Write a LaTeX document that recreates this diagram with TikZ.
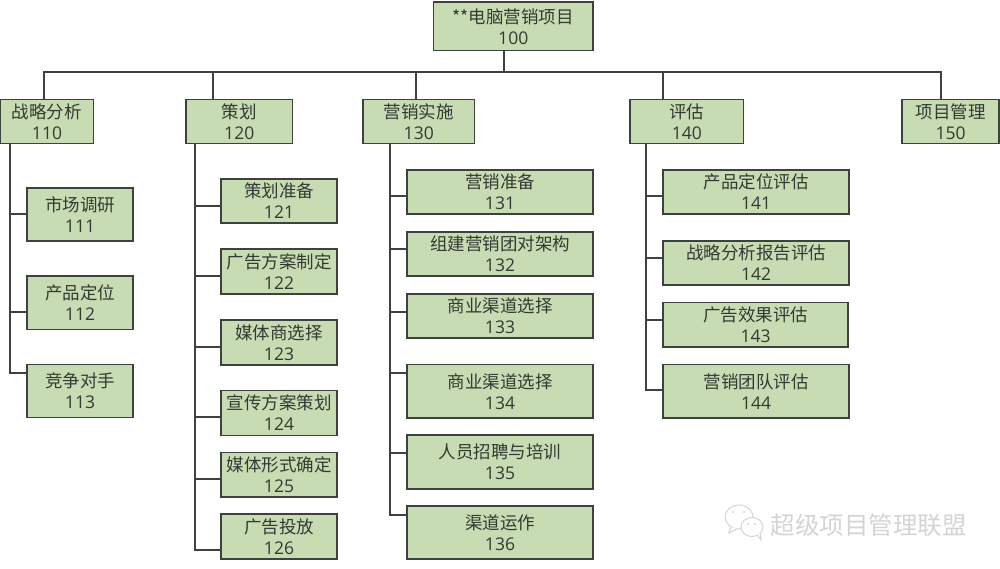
\documentclass[tikz,border=0pt]{standalone}
\usepackage{fontspec}
\setmainfont{Open Sans}
\newfontfamily\cjkfont{Noto Sans CJK SC}
\definecolor{boxfill}{HTML}{C7DCB2}
\definecolor{boxline}{HTML}{3C423C}
\definecolor{inktext}{HTML}{343934}
\definecolor{markgray}{HTML}{D4D4D4}
\tikzset{
  wbs/.style={draw=boxline,fill=boxfill,line width=1.5pt,inner sep=0pt,outer sep=0pt,
    align=center,text=inktext,font=\fontsize{17.5}{21}\selectfont},
  conn/.style={draw=boxline,line width=1.5pt},
  wmark/.style={draw=markgray,line width=1pt,fill=white}
}
\newcommand{\wbsbox}[6]{%
  \pgfmathsetmacro{\cxv}{(#3+#5)/2}\pgfmathsetmacro{\cyv}{(#4+#6)/2}%
  \pgfmathsetmacro{\wv}{#5-#3}\pgfmathsetmacro{\hv}{#6-#4}%
  \node[wbs,minimum width=\wv pt,minimum height=\hv pt] (n#1) at (\cxv,\cyv)
    {{\cjkfont #2}\\#1};}
\begin{document}
\begin{tikzpicture}[x=1pt,y=-1pt]
\useasboundingbox (0,0) rectangle (1000,569);
\coordinate (busL) at (44,72);
\coordinate (busR) at (941,72);
\coordinate (rootDrop) at (504,72);
\coordinate (d120) at (213,72);
\coordinate (d130) at (416,72);
\coordinate (d140) at (663,72);
% boxes
\wbsbox{100}{**电脑营销项目}{433.5}{2}{593}{50.5}
\wbsbox{110}{战略分析}{0.5}{99.5}{93.5}{143.5}
\wbsbox{120}{策划}{186}{99.5}{292.5}{143.5}
\wbsbox{130}{营销实施}{363}{99.5}{474.5}{143.5}
\wbsbox{140}{评估}{630}{99.5}{743.5}{143.5}
\wbsbox{150}{项目管理}{902}{99.5}{999}{143.5}
\wbsbox{111}{市场调研}{27}{188}{133}{241}
\wbsbox{112}{产品定位}{27}{276}{133}{329.5}
\wbsbox{113}{竞争对手}{27}{364.5}{133}{417.5}
\wbsbox{121}{策划准备}{221}{179}{337}{223}
\wbsbox{122}{广告方案制定}{221}{249}{337}{294}
\wbsbox{123}{媒体商选择}{221}{320}{337}{365}
\wbsbox{124}{宣传方案策划}{221}{390.5}{337}{435.5}
\wbsbox{125}{媒体形式确定}{221}{452.5}{337}{497}
\wbsbox{126}{广告投放}{221}{514}{337}{559}
\wbsbox{131}{营销准备}{407}{170}{593}{214}
\wbsbox{132}{组建营销团对架构}{407}{232}{593}{276}
\wbsbox{133}{商业渠道选择}{407}{294}{593}{338}
\wbsbox{134}{商业渠道选择}{407}{364.5}{593}{418}
\wbsbox{135}{人员招聘与培训}{407}{435}{593}{489}
\wbsbox{136}{渠道运作}{407}{506}{593}{559}
\wbsbox{141}{产品定位评估}{663}{170}{849}{214}
\wbsbox{142}{战略分析报告评估}{663}{241}{849}{285}
\wbsbox{143}{广告效果评估}{663}{302.5}{848}{347}
\wbsbox{144}{营销团队评估}{663}{364.5}{849}{418}
% top bus
\draw[conn] (n100.south -| rootDrop) -- (rootDrop);
\draw[conn] (n110.north -| busL) -- (busL) -- (busR) -- (n150.north -| busR);
\draw[conn] (d120) -- (d120 |- n120.north);
\draw[conn] (d130) -- (d130 |- n130.north);
\draw[conn] (d140) -- (d140 |- n140.north);
% branches: stem x / parent / child / branch y
\foreach \sx/\parent/\kid/\by in {
  10/110/111/214, 10/110/112/312, 10/110/113/373,
  195/120/121/206, 195/120/122/276, 195/120/123/347, 195/120/124/417, 195/120/125/479, 195/120/126/550,
  390/130/131/196, 390/130/132/249, 390/130/133/312, 390/130/134/373, 390/130/135/453, 390/130/136/515,
  646/140/141/196, 646/140/142/258, 646/140/143/320, 646/140/144/390}{
  \coordinate (b\kid) at (\sx,\by);
  \draw[conn] (n\parent.south -| b\kid) -- (b\kid) -- (b\kid -| n\kid.west);
}
% watermark
\draw[wmark] (739,517) ellipse [x radius=14,y radius=12];
\draw[wmark] (731,527) -- (729,533) -- (737,529);
\draw[wmark] (752,527) ellipse [x radius=11,y radius=9.5];
\draw[wmark] (757,535) -- (761,540) -- (760,533);
\foreach \px/\py in {733/512,744/512,748/524,755/524}
  \fill[markgray] (\px,\py) circle (1.2);
\node[inner sep=0pt,text=markgray,font={\cjkfont\fontsize{24.5}{26}\selectfont}] (wm) at (868.5,525) {超级项目管理联盟};
\end{tikzpicture}
\end{document}
